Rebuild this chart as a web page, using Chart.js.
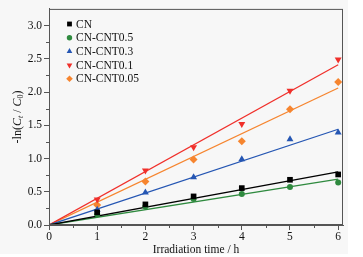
<!DOCTYPE html>
<html><head><meta charset="utf-8">
<script src="https://cdn.jsdelivr.net/npm/chart.js@4/dist/chart.umd.min.js"></script>
<style>html,body{margin:0;padding:0;background:#fff}#wrap{width:363px;height:257px;position:relative}</style>
</head><body><div id="wrap"><canvas id="c"></canvas></div>
<script>
// ---- data ----
const hours = [1, 2, 3, 4, 5, 6];
const seriesNames = ['CN', 'CN-CNT0.5', 'CN-CNT0.3', 'CN-CNT0.1', 'CN-CNT0.05'];
const cnVals     = [0.19, 0.31, 0.43, 0.555, 0.68, 0.76];
const cnt05Vals  = [0.16, 0.28, 0.39, 0.465, 0.57, 0.64];
const cnt03Vals  = [0.23, 0.49, 0.72, 0.99, 1.29, 1.39];
const cnt01Vals  = [0.385, 0.82, 1.17, 1.52, 2.02, 2.49];
const cnt005Vals = [0.30, 0.655, 0.985, 1.26, 1.74, 2.15];
// linear fits through origin: value at 0 h and at 6 h
const fitX = [0, 6];
const cnFit     = [0, 0.80];
const cnt05Fit  = [0, 0.69];
const cnt03Fit  = [0, 1.44];
const cnt01Fit  = [0, 2.41];
const cnt005Fit = [0, 2.06];
const yTickLabels = [0, 0.5, 1.0, 1.5, 2.0, 2.5, 3.0];
const xTickLabels = [0, 1, 2, 3, 4, 5, 6];

const colors = ['#000000', '#2f8a3f', '#2556b3', '#f0302b', '#f6852f'];
const styles = ['rect', 'circle', 'triangle', 'triangle', 'rectRot'];
const rots = [0, 0, 0, 180, 0];
const vals = [cnVals, cnt05Vals, cnt03Vals, cnt01Vals, cnt005Vals];
const fits = [cnFit, cnt05Fit, cnt03Fit, cnt01Fit, cnt005Fit];
const radii = [4, 3, 4, 4, 4];

const datasets = [];
fits.forEach((f, i) => datasets.push({
  label: seriesNames[i] + ' fit', data: fitX.map((x, k) => ({x, y: f[k]})),
  showLine: true, borderColor: colors[i], borderWidth: 1.3, pointRadius: 0, order: 2
}));
vals.forEach((v, i) => datasets.push({
  label: seriesNames[i], data: hours.map((x, k) => ({x, y: v[k]})),
  showLine: false, pointStyle: styles[i], rotation: rots[i], pointRadius: radii[i],
  backgroundColor: colors[i], borderColor: colors[i], borderWidth: 0, order: 1
}));

const L = 49, R = 343, T = 8, B = 225;
const serif = '"Liberation Serif", "Times New Roman", serif';

const decor = {
  id: 'decor',
  beforeDraw(chart) {
    const ctx = chart.ctx;
    ctx.save();
    ctx.fillStyle = '#ffffff';
    ctx.fillRect(0, 0, chart.width, chart.height);
    ctx.fillStyle = '#f7f7f7';
    ctx.fillRect(0, 0, 348, 254);
    ctx.restore();
  },
  afterDraw(chart) {
    const ctx = chart.ctx, a = chart.chartArea;
    const xs = chart.scales.x, ys = chart.scales.y;
    ctx.save();
    ctx.strokeStyle = '#555';
    ctx.lineWidth = 1;
    ctx.strokeRect(a.left + 0.5, a.top + 0.5, a.right - a.left - 1, a.bottom - a.top - 1);
    // minor ticks
    ctx.beginPath();
    for (let v = 0.25; v < 3.25; v += 0.5) {
      const y = Math.round(ys.getPixelForValue(v)) + 0.5;
      ctx.moveTo(a.left, y); ctx.lineTo(a.left - 3, y);
    }
    for (let v = 0.5; v < 6.1; v += 1) {
      const x = Math.round(xs.getPixelForValue(v)) + 0.5;
      ctx.moveTo(x, a.bottom); ctx.lineTo(x, a.bottom + 3);
    }
    ctx.stroke();
    // legend
    const ly0 = 24, dy = 13.7;
    seriesNames.forEach((n, i) => {
      const y = ly0 + i * dy;
      ctx.fillStyle = colors[i];
      ctx.strokeStyle = colors[i];
      Chart.helpers.drawPoint(ctx, {pointStyle: styles[i], rotation: rots[i], radius: i === 0 ? 3.4 : (i === 1 ? 2.7 : 3.3), borderWidth: 0}, 69.5, y);
      ctx.fillStyle = '#111';
      ctx.font = '11.5px ' + serif;
      ctx.textBaseline = 'middle';
      ctx.textAlign = 'left';
      ctx.fillText(n, 76, y + 0.5);
    });
    // y title: -ln(C_t / C_0)
    ctx.translate(18, (a.top + a.bottom) / 2);
    ctx.rotate(-Math.PI / 2);
    const parts = [
      ['-ln(', '12px', 0, ''], ['C', '12px', 0, 'italic '], ['t', '8px', 3, 'italic '],
      [' / ', '12px', 0, ''], ['C', '12px', 0, 'italic '], ['0', '8px', 3, ''], [')', '12px', 0, '']
    ];
    let w = 0;
    parts.forEach(p => { ctx.font = p[3] + p[1] + ' ' + serif; w += ctx.measureText(p[0]).width; });
    let x = -w / 2;
    ctx.fillStyle = '#111';
    ctx.textBaseline = 'middle';
    ctx.textAlign = 'left';
    parts.forEach(p => {
      ctx.font = p[3] + p[1] + ' ' + serif;
      ctx.fillText(p[0], x, p[2]);
      x += ctx.measureText(p[0]).width;
    });
    ctx.restore();
  }
};

new Chart(document.getElementById('c'), {
  type: 'scatter',
  data: { datasets },
  options: {
    responsive: true, maintainAspectRatio: false, animation: false,
    layout: { padding: { top: T, right: 363 - R, left: 0, bottom: 0 } },
    plugins: { legend: { display: false }, tooltip: { enabled: false } },
    scales: {
      x: {
        type: 'linear', min: 0, max: 6.1,
        afterFit(s) { s.height = 257 - B; },
        afterBuildTicks(s) { s.ticks = xTickLabels.map(v => ({value: v})); },
        grid: { drawOnChartArea: false, drawTicks: true, tickLength: 5, tickColor: '#555' },
        border: { color: '#555' },
        ticks: { color: '#111', font: { family: serif, size: 11.5 }, padding: 0, maxRotation: 0, callback: v => String(v) },
        title: { display: true, text: 'Irradiation time / h', color: '#111', font: { family: serif, size: 11.5 }, padding: { top: 0, bottom: 0 } }
      },
      y: {
        min: 0, max: 3.25,
        afterFit(s) { s.width = L; },
        afterBuildTicks(s) { s.ticks = yTickLabels.map(v => ({value: v})); },
        grid: { drawOnChartArea: false, drawTicks: true, tickLength: 5, tickColor: '#555' },
        border: { color: '#555' },
        ticks: { color: '#111', font: { family: serif, size: 11.5 }, padding: 2, callback: v => v.toFixed(1) }
      }
    }
  },
  plugins: [decor]
});
</script></body></html>
